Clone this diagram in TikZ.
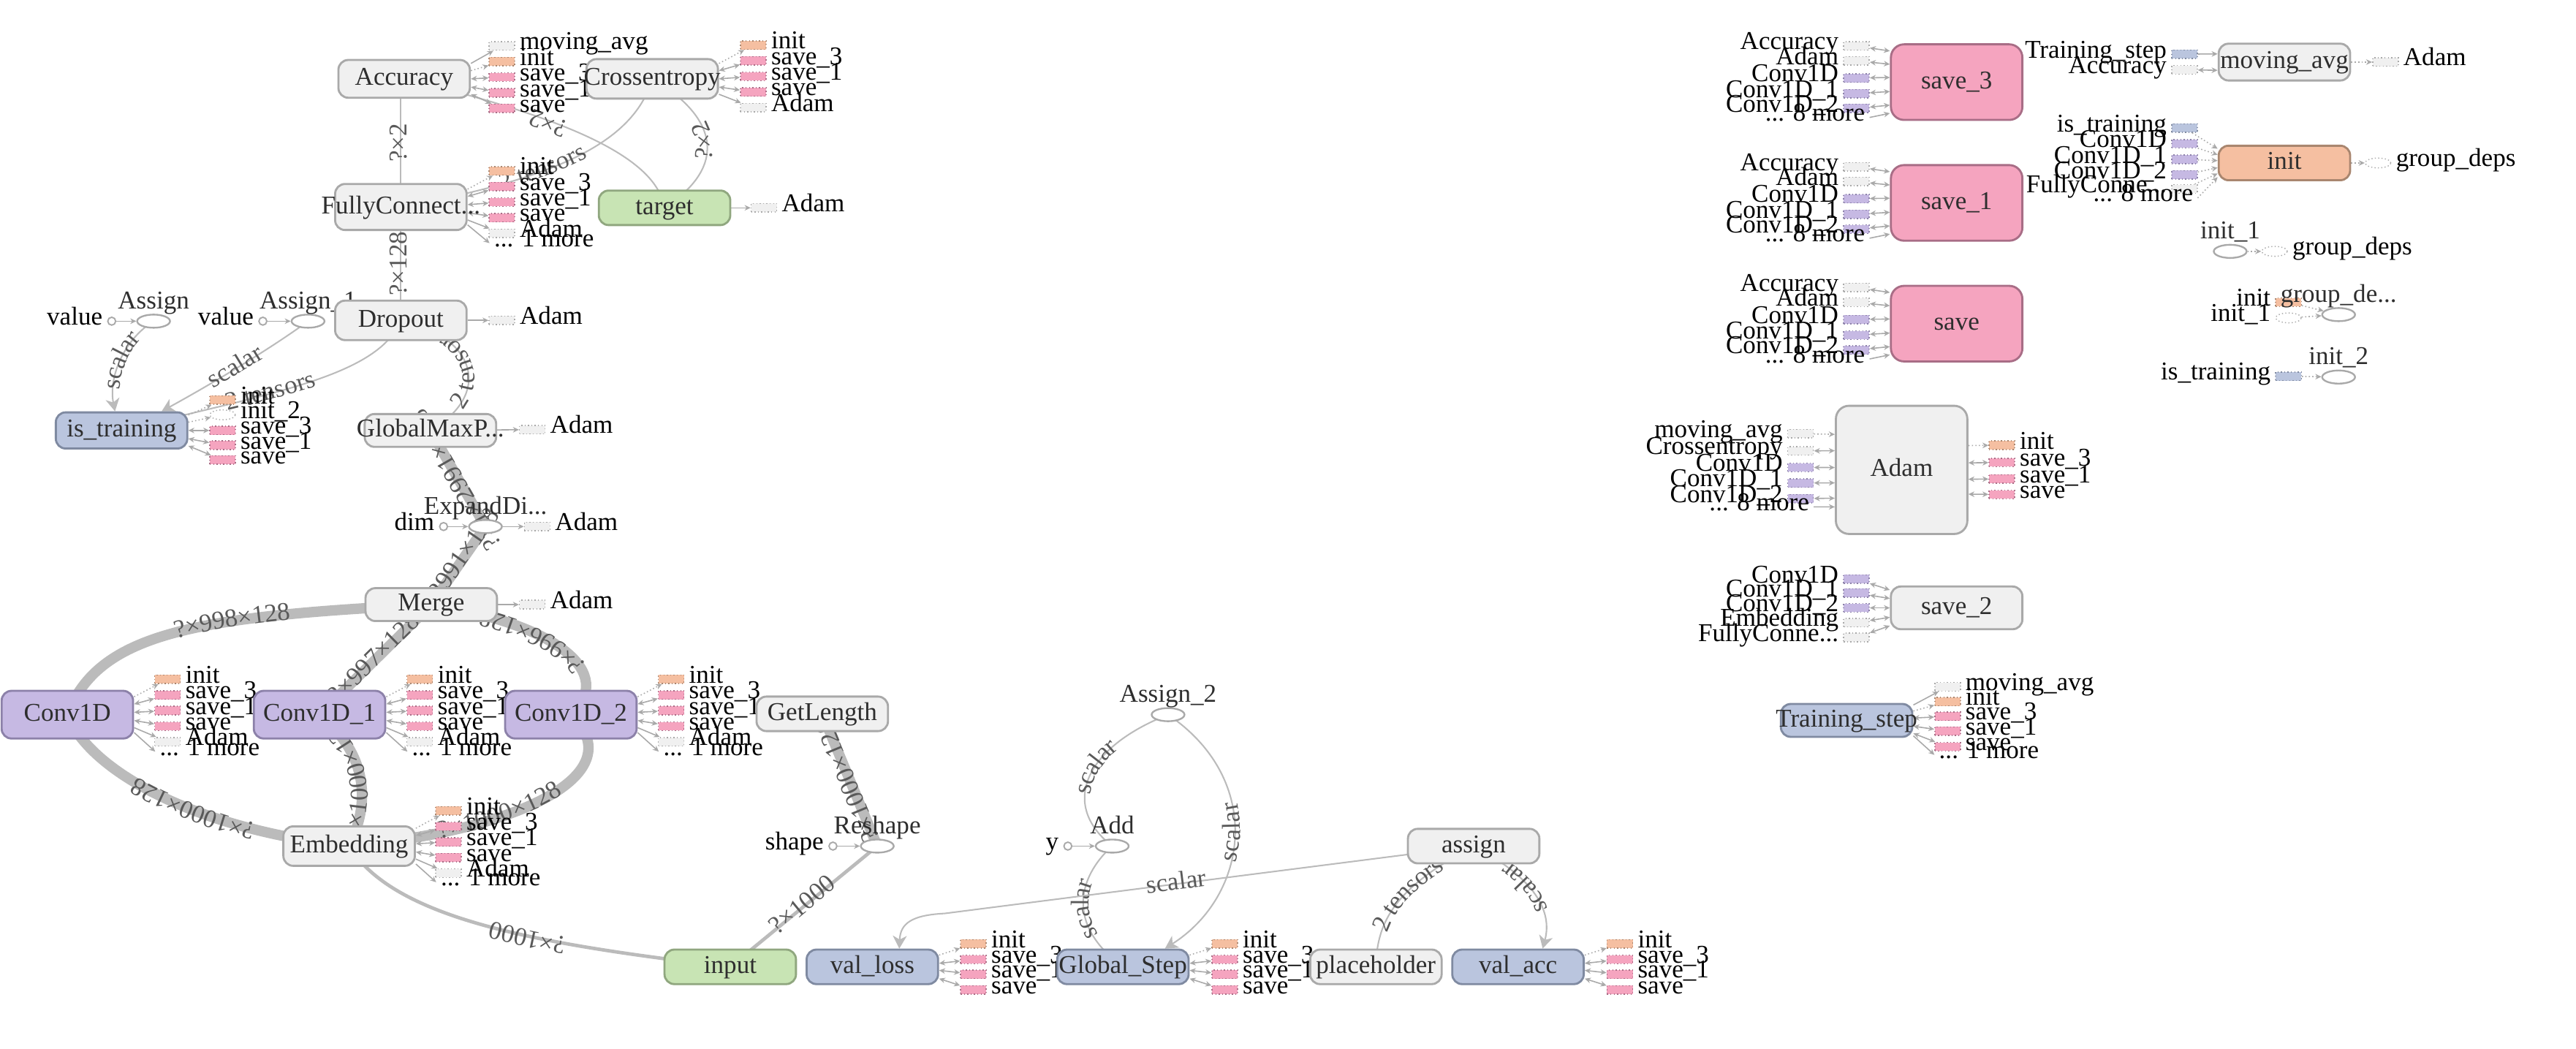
\documentclass[tikz,border=0pt]{standalone}
\usepackage{fontspec}
\setmainfont{Liberation Serif}
\usetikzlibrary{arrows.meta}
\usetikzlibrary{decorations.text}
\usetikzlibrary{shapes.geometric}

\definecolor{opfill}{HTML}{F0F0F0}
\definecolor{opline}{HTML}{A9A9A9}
\definecolor{convfill}{HTML}{C6B9E3}
\definecolor{convline}{HTML}{8C81A9}
\definecolor{varfill}{HTML}{BAC5DE}
\definecolor{varline}{HTML}{7F8AA1}
\definecolor{phfill}{HTML}{C8E4B4}
\definecolor{phline}{HTML}{90A77F}
\definecolor{savefill}{HTML}{F5A4BF}
\definecolor{saveline}{HTML}{A86D86}
\definecolor{initfill}{HTML}{F5BFA1}
\definecolor{initline}{HTML}{A9866F}
\definecolor{edgecol}{HTML}{BBBBBB}
\definecolor{textcol}{HTML}{2E2E2E}
\definecolor{labcol}{HTML}{595959}

\pgfdeclarelayer{edgelayer}
\pgfdeclarelayer{annlayer}
\pgfsetlayers{edgelayer,annlayer,main}

\tikzset{
  every node/.style={font=\fontsize{11.1pt}{13pt}\selectfont},
  nowide/.style={execute at begin node={\hbox to 0pt\bgroup\hss}, execute at end node={\hss\egroup}},
  opbox/.style={rectangle, rounded corners=0.15cm, line width=0.9pt, minimum width=2cm, minimum height=0.55cm, inner sep=0pt, text=textcol, text height=7.6pt, text depth=2pt, nowide},
  graybox/.style={opbox, draw=opline, fill=opfill},
  convbox/.style={opbox, draw=convline, fill=convfill},
  varbox/.style={opbox, draw=varline, fill=varfill},
  phbox/.style={opbox, draw=phline, fill=phfill},
  savebox/.style={opbox, draw=saveline, fill=savefill, rounded corners=0.2cm},
  initbox/.style={opbox, draw=initline, fill=initfill},
  opell/.style={ellipse, draw=opline, fill=white, line width=0.75pt, minimum width=0.5cm, minimum height=0.2cm, inner sep=0pt, label distance=0.6pt},
  oplab/.style={text=textcol, inner sep=0pt, text height=7pt, text depth=2pt},
  tagbase/.style={rectangle, minimum width=0.39cm, minimum height=0.13cm, inner sep=0pt, line width=0.45pt, densely dotted},
  tginit/.style={tagbase, draw=initline, fill=initfill},
  tgsave/.style={tagbase, draw=saveline, fill=savefill},
  tggray/.style={tagbase, draw=opline, fill=opfill},
  tgconv/.style={tagbase, draw=convline, fill=convfill},
  tgvar/.style={tagbase, draw=varline, fill=varfill},
  tgop/.style={ellipse, minimum width=0.39cm, minimum height=0.15cm, inner sep=0pt, line width=0.45pt, densely dotted, draw=opline, fill=white},
  incirc/.style={circle, draw=opline, fill=white, line width=0.6pt, minimum size=0.12cm, inner sep=0pt},
  annr/.style={inner sep=0pt, inner xsep=1.8pt, text height=5.2pt, text depth=2pt},
  annl/.style={annr},
  annline/.style={draw=opline, line width=0.5pt},
  dat/.style={annline, -{Stealth[length=2.6pt,width=2.4pt]}},
  ctl/.style={annline, densely dotted, -{Stealth[length=2.6pt,width=2.4pt]}},
  twoway/.style={annline, {Stealth[length=2.6pt,width=2.4pt]}-{Stealth[length=2.6pt,width=2.4pt]}},
  thinedge/.style={draw=edgecol, line width=0.65pt},
  midedge/.style={draw=edgecol, line width=1.5pt},
  thickedge/.style={draw=edgecol, line width=4.5pt},
  refedge/.style={thinedge, {Stealth[length=5.5pt,width=6pt,inset=1.6pt]}-},
  elab/.style={text=labcol, inner sep=0pt, text height=7pt, text depth=2pt, sloped, allow upside down, midway},
  along/.style={postaction={decorate, decoration={text along path, text align=center, raise=-2.5pt, text={|\fontsize{11.1pt}{13pt}\selectfont\color{labcol}|#1}}}},
}

\begin{document}
\begin{tikzpicture}[x=0.025cm, y=-0.025cm]
	\useasboundingbox (0,0) rectangle (1568,638.5);
	
	% small operations
	\node[opell, label={[oplab]above:Assign}] (Assign) at (93.5,195.5) {};
	\node[opell, label={[oplab]above:Assign\_1}] (Assign1) at (187.5,195.5) {};
	\node[opell, label={[oplab]above:ExpandDi...}] (ExpandDi) at (295.5,320.5) {};
	\node[opell, label={[oplab]above:Reshape}] (Reshape) at (534,515) {};
	\node[opell, label={[oplab]above:Add}] (Add) at (677,515) {};
	\node[opell, label={[oplab]above:Assign\_2}] (Assign2) at (711,435) {};
	\node[opell, label={[oplab]above:init\_1}] (init1) at (1357.5,153) {};
	\node[opell, label={[oplab]above:group\_de...}] (groupde) at (1423.5,191.5) {};
	\node[opell, label={[oplab]above:init\_2}] (init2) at (1423.5,229.5) {};
	
	% main graph
	\node[graybox, minimum height=0.575cm] (Accuracy) at (246,48) {Accuracy};
	\node[graybox, minimum height=0.6cm] (Crossentropy) at (397,48) {Crossentropy};
	\node[graybox, minimum height=0.7cm] (FullyConnect) at (244,126) {FullyConnect...};
	\node[phbox, minimum height=0.525cm] (target) at (404.5,126.5) {target};
	\node[graybox, minimum height=0.6cm] (Dropout) at (244,195) {Dropout};
	\node[varbox] (istraining) at (74,262) {is\_training};
	\node[graybox, minimum height=0.5cm] (GlobalMaxP) at (262,262) {GlobalMaxP...};
	\node[graybox, minimum height=0.5cm] (Merge) at (262.5,368) {Merge};
	\node[convbox, minimum height=0.725cm] (Conv1D) at (41,435) {Conv1D};
	\node[convbox, minimum height=0.725cm] (Conv1Da) at (194.5,435) {Conv1D\_1};
	\node[convbox, minimum height=0.725cm] (Conv1Db) at (347.5,435) {Conv1D\_2};
	\node[graybox, minimum height=0.525cm] (GetLength) at (500.5,434.5) {GetLength};
	\node[graybox, minimum height=0.6cm] (Embedding) at (212.5,515) {Embedding};
	\node[graybox, minimum height=0.525cm] (assign) at (897,515) {assign};
	\node[phbox, minimum height=0.525cm] (input) at (444.5,588.5) {input};
	\node[varbox, minimum height=0.525cm] (valloss) at (531,588.5) {val\_loss};
	\node[varbox, minimum height=0.525cm] (globalstep) at (683.5,588.5) {Global\_Step};
	\node[graybox, minimum height=0.525cm] (placeholder) at (837.5,588.5) {placeholder};
	\node[varbox, minimum height=0.525cm] (valacc) at (924,588.5) {val\_acc};
	
	% auxiliary nodes
	\node[savebox, minimum height=1.15cm] (save3) at (1191,50) {save\_3};
	\node[savebox, minimum height=1.15cm] (save1) at (1191,123.5) {save\_1};
	\node[savebox, minimum height=1.15cm] (save0) at (1191,197) {save};
	\node[graybox, minimum height=0.56cm] (movingavg) at (1390.5,37.8) {moving\_avg};
	\node[initbox, minimum height=0.525cm] (init) at (1390.5,99.2) {init};
	\node[graybox, minimum height=1.95cm, rounded corners=0.2cm] (adam) at (1157.5,286) {Adam};
	\node[graybox, minimum height=0.65cm] (save2) at (1191,370) {save\_2};
	\node[varbox, minimum height=0.5cm] (trainingstep) at (1124,438.5) {Training\_step};
	
	% edges with tensor shapes
	\begin{pgfonlayer}{edgelayer}
	\draw[thickedge, along={?×998×128}] (Conv1D.center) .. controls (60,385) and (120,375) .. (Merge.center);
	\draw[thickedge] (Conv1Da.center) -- node[elab]{?×997×128} (Merge.center);
	\draw[thickedge, along={?×996×128}] (Conv1Db.center) .. controls (375,410) and (340,380) .. (Merge.center);
	\draw[thickedge, along={?×1000×128}] (Embedding.center) .. controls (120,505) and (55,470) .. (Conv1D.center);
	\draw[thickedge, along={?×1000×128}] (Embedding.center) .. controls (225,490) and (225,460) .. (Conv1Da.center);
	\draw[thickedge, along={?×1000×128}] (Embedding.center) .. controls (320,505) and (385,470) .. (Conv1Db.center);
	\draw[midedge, along={?×1000}] (input.center) .. controls (330,575) and (240,560) .. (Embedding.center);
	\draw[midedge] (input.center) -- node[elab]{?×1000} (Reshape.center);
	\draw[thickedge] (Reshape.center) -- node[elab]{?×1000×128} (GetLength.center);
	\draw[thickedge] (Merge.center) -- node[elab]{?×2991×128} (ExpandDi.center);
	\draw[thickedge] (ExpandDi.center) -- node[elab]{?×1×2991×128} (GlobalMaxP.center);
	\draw[thinedge, along={2 tensors}] (GlobalMaxP.center) .. controls (300,240) and (290,205) .. (Dropout.center);
	\draw[thinedge, along={2 tensors}] (istraining.center) .. controls (160,240) and (230,230) .. (Dropout.center);
	\draw[thinedge] (Dropout.center) -- node[elab]{?×128} (FullyConnect.center);
	\draw[thinedge] (FullyConnect.center) -- node[elab]{?×2} (FullyConnect.center |- Accuracy.center);
	\draw[thinedge, along={2 tensors}] (FullyConnect.center) .. controls (330,110) and (385,90) .. (Crossentropy.center);
	\draw[thinedge, along={?×2}] (target.center) .. controls (400,100) and (360,75) .. (Accuracy.center);
	\draw[thinedge, along={?×2}] (target.center) .. controls (445,100) and (435,70) .. (Crossentropy.center);
	
	% reference edges and scalars
	\draw[refedge, along={scalar}] ([xshift=-0.1cm]istraining.north) .. controls (66,230) and (75,207) .. (Assign.center);
	\draw[refedge, along={scalar}] ([xshift=0.61cm]istraining.north) .. controls (130,233) and (165,212) .. (Assign1.center);
	\draw[thinedge, along={scalar}] (Add.center) .. controls (645,490) and (660,455) .. (Assign2.center);
	\draw[refedge, along={scalar}] ([xshift=0.64cm]globalstep.north) .. controls (760,545) and (770,475) .. (Assign2.center);
	\draw[thinedge, along={scalar}] (globalstep.center) .. controls (645,560) and (660,530) .. (Add.center);
	\draw[refedge, along={scalar}] ([xshift=0.41cm]valloss.north) .. controls (548,562) and (555,557) .. (575,556) -- (assign.center);
	\draw[thinedge, along={2 tensors}] (placeholder.center) .. controls (838,560) and (850,540) .. (assign.center);
	\draw[refedge, along={scalar}] ([xshift=0.375cm]valacc.north) .. controls (945,555) and (935,535) .. (assign.center);
	\end{pgfonlayer}
	
	\begin{pgfonlayer}{annlayer}
	% inputs of small operations
	\node[incirc, label={[annl]left:value}] (valA) at (68,195.5) {}; \draw[dat] (valA) -- (Assign);
	\node[incirc, label={[annl]left:value}] (valB) at (160,195.5) {}; \draw[dat] (valB) -- (Assign1);
	\node[incirc, label={[annl]left:dim}] (dimin) at (270,320.5) {}; \draw[dat] (dimin) -- (ExpandDi);
	\node[incirc, label={[annl]left:shape}] (shapein) at (507,515) {}; \draw[dat] (shapein) -- (Reshape);
	\node[incirc, label={[annl]left:y}] (yin) at (650,515) {}; \draw[dat] (yin) -- (Add);
	
	% Accuracy
	\node[tggray, label={[annr]right:moving\_avg}] (acc1) at (305.5,28) {}; \draw[dat] (Accuracy.13) -- (acc1);
	\node[tginit, label={[annr]right:init}] (acc2) at (305.5,37.5) {}; \draw[ctl] (Accuracy.7) -- (acc2);
	\node[tgsave, label={[annr]right:save\_3}] (acc3) at (305.5,47) {}; \draw[twoway] (Accuracy.0) -- (acc3);
	\node[tgsave, label={[annr]right:save\_1}] (acc4) at (305.5,56.5) {}; \draw[twoway] (Accuracy.-7) -- (acc4);
	\node[tgsave, label={[annr]right:save}] (acc5) at (305.5,66) {}; \draw[twoway] (Accuracy.-13) -- (acc5);
	
	% Crossentropy
	\node[tginit, label={[annr]right:init}] (ce1) at (458.5,27.5) {}; \draw[ctl] (Crossentropy.13) -- (ce1);
	\node[tgsave, label={[annr]right:save\_3}] (ce2) at (458.5,37) {}; \draw[twoway] (Crossentropy.7) -- (ce2);
	\node[tgsave, label={[annr]right:save\_1}] (ce3) at (458.5,46.5) {}; \draw[twoway] (Crossentropy.0) -- (ce3);
	\node[tgsave, label={[annr]right:save}] (ce4) at (458.5,56) {}; \draw[twoway] (Crossentropy.-7) -- (ce4);
	\node[tggray, label={[annr]right:Adam}] (ce5) at (458.5,65.5) {}; \draw[dat] (Crossentropy.-13) -- (ce5);
	
	% FullyConnected
	\node[tginit, label={[annr]right:init}] (fc1) at (305.5,104) {}; \draw[ctl] (FullyConnect.15) -- (fc1);
	\node[tgsave, label={[annr]right:save\_3}] (fc2) at (305.5,113.5) {}; \draw[twoway] (FullyConnect.9) -- (fc2);
	\node[tgsave, label={[annr]right:save\_1}] (fc3) at (305.5,123) {}; \draw[twoway] (FullyConnect.2) -- (fc3);
	\node[tgsave, label={[annr]right:save}] (fc4) at (305.5,132.5) {}; \draw[twoway] (FullyConnect.-5) -- (fc4);
	\node[tggray, label={[annr]right:Adam}] (fc5) at (305.5,142) {}; \draw[dat] (FullyConnect.-11) -- (fc5);
	\node[annr, anchor=west] (fcm) at (298,148) {... 1 more}; \draw[dat] (FullyConnect.-15) -- (fcm.west);
	
	% single outputs
	\node[tggray, label={[annr]right:Adam}] (tg1) at (465,126.5) {}; \draw[dat] (target) -- (tg1);
	\node[tggray, label={[annr]right:Adam}] (dp1) at (305.5,195) {}; \draw[dat] (Dropout) -- (dp1);
	\node[tggray, label={[annr]right:Adam}] (gm1) at (324,261.5) {}; \draw[dat] (GlobalMaxP) -- (gm1);
	\node[tggray, label={[annr]right:Adam}] (ed1) at (327,320.5) {}; \draw[dat] (ExpandDi) -- (ed1);
	\node[tggray, label={[annr]right:Adam}] (mg1) at (324,368) {}; \draw[dat] (Merge) -- (mg1);
	
	% is_training
	\node[tginit, label={[annr]right:init}] (it1) at (135.5,243.5) {}; \draw[ctl] (istraining.13) -- (it1);
	\node[tgop, label={[annr]right:init\_2}] (it2) at (135.5,252.5) {}; \draw[ctl] (istraining.7) -- (it2);
	\node[tgsave, label={[annr]right:save\_3}] (it3) at (135.5,262) {}; \draw[twoway] (istraining.0) -- (it3);
	\node[tgsave, label={[annr]right:save\_1}] (it4) at (135.5,271) {}; \draw[twoway] (istraining.-7) -- (it4);
	\node[tgsave, label={[annr]right:save}] (it5) at (135.5,280) {}; \draw[twoway] (istraining.-13) -- (it5);
	
	% Conv1D
	\node[tginit, label={[annr]right:init}] (ca1) at (102,413.5) {}; \draw[ctl] (Conv1D.15) -- (ca1);
	\node[tgsave, label={[annr]right:save\_3}] (ca2) at (102,423) {}; \draw[twoway] (Conv1D.9) -- (ca2);
	\node[tgsave, label={[annr]right:save\_1}] (ca3) at (102,432.5) {}; \draw[twoway] (Conv1D.2) -- (ca3);
	\node[tgsave, label={[annr]right:save}] (ca4) at (102,442) {}; \draw[twoway] (Conv1D.-5) -- (ca4);
	\node[tggray, label={[annr]right:Adam}] (ca5) at (102,451.5) {}; \draw[dat] (Conv1D.-11) -- (ca5);
	\node[annr, anchor=west] (cam) at (94.5,457.5) {... 1 more}; \draw[dat] (Conv1D.-15) -- (cam.west);
	
	% Conv1D_1
	\node[tginit, label={[annr]right:init}] (cb1) at (255.5,413.5) {}; \draw[ctl] (Conv1Da.15) -- (cb1);
	\node[tgsave, label={[annr]right:save\_3}] (cb2) at (255.5,423) {}; \draw[twoway] (Conv1Da.9) -- (cb2);
	\node[tgsave, label={[annr]right:save\_1}] (cb3) at (255.5,432.5) {}; \draw[twoway] (Conv1Da.2) -- (cb3);
	\node[tgsave, label={[annr]right:save}] (cb4) at (255.5,442) {}; \draw[twoway] (Conv1Da.-5) -- (cb4);
	\node[tggray, label={[annr]right:Adam}] (cb5) at (255.5,451.5) {}; \draw[dat] (Conv1Da.-11) -- (cb5);
	\node[annr, anchor=west] (cbm) at (248,457.5) {... 1 more}; \draw[dat] (Conv1Da.-15) -- (cbm.west);
	
	% Conv1D_2
	\node[tginit, label={[annr]right:init}] (cc1) at (408.5,413.5) {}; \draw[ctl] (Conv1Db.15) -- (cc1);
	\node[tgsave, label={[annr]right:save\_3}] (cc2) at (408.5,423) {}; \draw[twoway] (Conv1Db.9) -- (cc2);
	\node[tgsave, label={[annr]right:save\_1}] (cc3) at (408.5,432.5) {}; \draw[twoway] (Conv1Db.2) -- (cc3);
	\node[tgsave, label={[annr]right:save}] (cc4) at (408.5,442) {}; \draw[twoway] (Conv1Db.-5) -- (cc4);
	\node[tggray, label={[annr]right:Adam}] (cc5) at (408.5,451.5) {}; \draw[dat] (Conv1Db.-11) -- (cc5);
	\node[annr, anchor=west] (ccm) at (401,457.5) {... 1 more}; \draw[dat] (Conv1Db.-15) -- (ccm.west);
	
	% Embedding
	\node[tginit, label={[annr]right:init}] (em1) at (273,493.5) {}; \draw[ctl] (Embedding.15) -- (em1);
	\node[tgsave, label={[annr]right:save\_3}] (em2) at (273,503) {}; \draw[twoway] (Embedding.9) -- (em2);
	\node[tgsave, label={[annr]right:save\_1}] (em3) at (273,512.5) {}; \draw[twoway] (Embedding.2) -- (em3);
	\node[tgsave, label={[annr]right:save}] (em4) at (273,522) {}; \draw[twoway] (Embedding.-5) -- (em4);
	\node[tggray, label={[annr]right:Adam}] (em5) at (273,531.5) {}; \draw[dat] (Embedding.-11) -- (em5);
	\node[annr, anchor=west] (emm) at (265.5,537) {... 1 more}; \draw[dat] (Embedding.-15) -- (emm.west);
	
	% val_loss
	\node[tginit, label={[annr]right:init}] (vl1) at (592.5,574.5) {}; \draw[ctl] (valloss.10) -- (vl1);
	\node[tgsave, label={[annr]right:save\_3}] (vl2) at (592.5,584) {}; \draw[twoway] (valloss.3) -- (vl2);
	\node[tgsave, label={[annr]right:save\_1}] (vl3) at (592.5,593) {}; \draw[twoway] (valloss.-3) -- (vl3);
	\node[tgsave, label={[annr]right:save}] (vl4) at (592.5,602.5) {}; \draw[twoway] (valloss.-10) -- (vl4);
	
	% Global_Step
	\node[tginit, label={[annr]right:init}] (gs1) at (745.5,574.5) {}; \draw[ctl] (globalstep.10) -- (gs1);
	\node[tgsave, label={[annr]right:save\_3}] (gs2) at (745.5,584) {}; \draw[twoway] (globalstep.3) -- (gs2);
	\node[tgsave, label={[annr]right:save\_1}] (gs3) at (745.5,593) {}; \draw[twoway] (globalstep.-3) -- (gs3);
	\node[tgsave, label={[annr]right:save}] (gs4) at (745.5,602.5) {}; \draw[twoway] (globalstep.-10) -- (gs4);
	
	% val_acc
	\node[tginit, label={[annr]right:init}] (va1) at (986,574.5) {}; \draw[ctl] (valacc.10) -- (va1);
	\node[tgsave, label={[annr]right:save\_3}] (va2) at (986,584) {}; \draw[twoway] (valacc.3) -- (va2);
	\node[tgsave, label={[annr]right:save\_1}] (va3) at (986,593) {}; \draw[twoway] (valacc.-3) -- (va3);
	\node[tgsave, label={[annr]right:save}] (va4) at (986,602.5) {}; \draw[twoway] (valacc.-10) -- (va4);
	
	% save_3
	\node[tggray, label={[annl]left:Accuracy}] (sa1) at (1130,28) {}; \draw[twoway] (sa1) -- (save3.155);
	\node[tggray, label={[annl]left:Adam}] (sa2) at (1130,37) {}; \draw[twoway] (sa2) -- (save3.165);
	\node[tgconv, label={[annl]left:Conv1D}] (sa3) at (1130,47.5) {}; \draw[twoway] (sa3) -- (save3.176);
	\node[tgconv, label={[annl]left:Conv1D\_1}] (sa4) at (1130,57) {}; \draw[twoway] (sa4) -- (save3.188);
	\node[tgconv, label={[annl]left:Conv1D\_2}] (sa5) at (1130,66) {}; \draw[twoway] (sa5) -- (save3.199);
	\node[annl, anchor=east] (sam) at (1138,71.5) {... 8 more}; \draw[dat] (sam.east) -- (save3.205);
	
	% save_1
	\node[tggray, label={[annl]left:Accuracy}] (sb1) at (1130,101.5) {}; \draw[twoway] (sb1) -- (save1.155);
	\node[tggray, label={[annl]left:Adam}] (sb2) at (1130,110.5) {}; \draw[twoway] (sb2) -- (save1.165);
	\node[tgconv, label={[annl]left:Conv1D}] (sb3) at (1130,121) {}; \draw[twoway] (sb3) -- (save1.176);
	\node[tgconv, label={[annl]left:Conv1D\_1}] (sb4) at (1130,130.5) {}; \draw[twoway] (sb4) -- (save1.188);
	\node[tgconv, label={[annl]left:Conv1D\_2}] (sb5) at (1130,139.5) {}; \draw[twoway] (sb5) -- (save1.199);
	\node[annl, anchor=east] (sbm) at (1138,145) {... 8 more}; \draw[dat] (sbm.east) -- (save1.205);
	
	% save
	\node[tggray, label={[annl]left:Accuracy}] (sc1) at (1130,175) {}; \draw[twoway] (sc1) -- (save0.155);
	\node[tggray, label={[annl]left:Adam}] (sc2) at (1130,184) {}; \draw[twoway] (sc2) -- (save0.165);
	\node[tgconv, label={[annl]left:Conv1D}] (sc3) at (1130,194.5) {}; \draw[twoway] (sc3) -- (save0.176);
	\node[tgconv, label={[annl]left:Conv1D\_1}] (sc4) at (1130,204) {}; \draw[twoway] (sc4) -- (save0.188);
	\node[tgconv, label={[annl]left:Conv1D\_2}] (sc5) at (1130,213) {}; \draw[twoway] (sc5) -- (save0.199);
	\node[annl, anchor=east] (scm) at (1138,218.5) {... 8 more}; \draw[dat] (scm.east) -- (save0.205);
	
	% moving_avg
	\node[tgvar, label={[annl]left:Training\_step}] (ma1) at (1329.7,33) {}; \draw[dat] (ma1) -- (movingavg.173);
	\node[tggray, label={[annl]left:Accuracy}] (ma2) at (1329.7,42.5) {}; \draw[twoway] (ma2) -- (movingavg.187);
	\node[tggray, label={[annr]right:Adam}] (ma3) at (1452,37.8) {}; \draw[ctl] (movingavg) -- (ma3);
	
	% init
	\node[tgvar, label={[annl]left:is\_training}] (in1) at (1329.7,78) {}; \draw[ctl] (in1) -- (init.168);
	\node[tgconv, label={[annl]left:Conv1D}] (in2) at (1329.7,87.5) {}; \draw[ctl] (in2) -- (init.173);
	\node[tgconv, label={[annl]left:Conv1D\_1}] (in3) at (1329.7,97) {}; \draw[ctl] (in3) -- (init.178.6);
	\node[tgconv, label={[annl]left:Conv1D\_2}] (in4) at (1329.7,106.5) {}; \draw[ctl] (in4) -- (init.184);
	\node[tggray, label={[annl]left:FullyConne...}] (in5) at (1329.7,115) {}; \draw[ctl] (in5) -- (init.189);
	\node[annl, anchor=east] (inm) at (1337.7,120.5) {... 8 more}; \draw[ctl] (inm.east) -- (init.192);
	\node[tgop, label={[annr]right:group\_deps}] (in6) at (1447.5,99.2) {}; \draw[ctl] (init) -- (in6);
	
	% init_1, group_deps, init_2
	\node[tgop, label={[annr]right:group\_deps}] (ia1) at (1384.5,153) {}; \draw[ctl] (init1) -- (ia1);
	\node[tginit, label={[annl]left:init}] (gd1) at (1393,184) {}; \draw[ctl] (gd1) -- (groupde);
	\node[tgop, label={[annl]left:init\_1}] (gd2) at (1393,193.5) {}; \draw[ctl] (gd2) -- (groupde);
	\node[tgvar, label={[annl]left:is\_training}] (ib1) at (1393,229) {}; \draw[ctl] (ib1) -- (init2);
	
	% Adam
	\node[tggray, label={[annl]left:moving\_avg}] (ad1) at (1096,264) {}; \draw[ctl] (ad1) -- (adam.152);
	\node[tggray, label={[annl]left:Crossentropy}] (ad2) at (1096,274.5) {}; \draw[twoway] (ad2) -- (adam.164.5);
	\node[tgconv, label={[annl]left:Conv1D}] (ad3) at (1096,284.5) {}; \draw[twoway] (ad3) -- (adam.178);
	\node[tgconv, label={[annl]left:Conv1D\_1}] (ad4) at (1096,294) {}; \draw[twoway] (ad4) -- (adam.191.6);
	\node[tgconv, label={[annl]left:Conv1D\_2}] (ad5) at (1096,303.5) {}; \draw[twoway] (ad5) -- (adam.203.6);
	\node[annl, anchor=east] (adm) at (1104,308.5) {... 8 more}; \draw[dat] (adm.east) -- (adam.209);
	\node[tginit, label={[annr]right:init}] (ae1) at (1218.5,271) {}; \draw[ctl] (adam.20) -- (ae1);
	\node[tgsave, label={[annr]right:save\_3}] (ae2) at (1218.5,281.5) {}; \draw[twoway] (adam.6) -- (ae2);
	\node[tgsave, label={[annr]right:save\_1}] (ae3) at (1218.5,291.5) {}; \draw[twoway] (adam.-8) -- (ae3);
	\node[tgsave, label={[annr]right:save}] (ae4) at (1218.5,301) {}; \draw[twoway] (adam.-20) -- (ae4);
	
	% save_2
	\node[tgconv, label={[annl]left:Conv1D}] (sd1) at (1130,352.5) {}; \draw[twoway] (sd1) -- (save2.165);
	\node[tgconv, label={[annl]left:Conv1D\_1}] (sd2) at (1130,361) {}; \draw[twoway] (sd2) -- (save2.172);
	\node[tgconv, label={[annl]left:Conv1D\_2}] (sd3) at (1130,370) {}; \draw[twoway] (sd3) -- (save2.180);
	\node[tggray, label={[annl]left:Embedding}] (sd4) at (1130,379) {}; \draw[twoway] (sd4) -- (save2.188);
	\node[tggray, label={[annl]left:FullyConne...}] (sd5) at (1130,388) {}; \draw[twoway] (sd5) -- (save2.195);
	
	% Training_step
	\node[tggray, label={[annr]right:moving\_avg}] (ts1) at (1185.5,418) {}; \draw[dat] (trainingstep.13.5) -- (ts1);
	\node[tginit, label={[annr]right:init}] (ts2) at (1185.5,427) {}; \draw[ctl] (trainingstep.8) -- (ts2);
	\node[tgsave, label={[annr]right:save\_3}] (ts3) at (1185.5,436) {}; \draw[twoway] (trainingstep.2) -- (ts3);
	\node[tgsave, label={[annr]right:save\_1}] (ts4) at (1185.5,445) {}; \draw[twoway] (trainingstep.-5) -- (ts4);
	\node[tgsave, label={[annr]right:save}] (ts5) at (1185.5,454.5) {}; \draw[twoway] (trainingstep.-11) -- (ts5);
	\node[annr, anchor=west] (tsm) at (1177.5,459.5) {... 1 more}; \draw[dat] (trainingstep.-13.5) -- (tsm.west);
	\end{pgfonlayer}
\end{tikzpicture}
\end{document}
